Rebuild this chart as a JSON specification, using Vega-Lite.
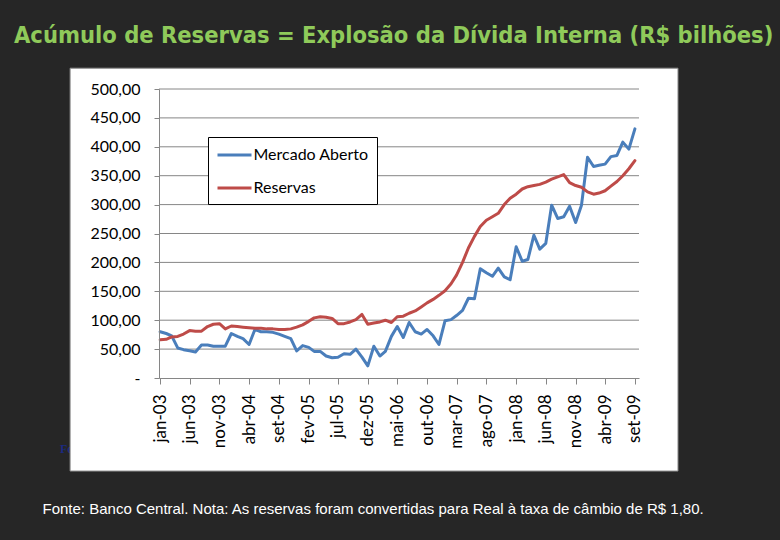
{
  "$schema": "https://vega.github.io/schema/vega-lite/v6.json",
  "width": 480,
  "height": 289,
  "autosize": {"type": "none"},
  "padding": {"left": 159, "top": 89, "right": 141, "bottom": 162},
  "background": "#262626",
  "title": {
    "text": "Acúmulo de Reservas = Explosão da Dívida Interna (R$ bilhões)",
    "anchor": "start",
    "frame": "group",
    "dx": -145,
    "offset": 20,
    "color": "#8fca5a",
    "font": "DejaVu Sans Condensed",
    "fontSize": 23.5,
    "fontWeight": "bold"
  },
  "config": {
    "view": {"stroke": null},
    "axis": {"zindex": 1, "grid": false, "labelOverlap": false, "domainColor": "#868686", "tickColor": "#868686", "labelColor": "#000000"}
  },
  "datasets": {
    "serie": [
      {"mes": "2003-01", "Mercado Aberto": 80, "Reservas": 66},
      {"mes": "2003-02", "Mercado Aberto": 77, "Reservas": 67},
      {"mes": "2003-03", "Mercado Aberto": 73, "Reservas": 71},
      {"mes": "2003-04", "Mercado Aberto": 52, "Reservas": 72},
      {"mes": "2003-05", "Mercado Aberto": 49, "Reservas": 76},
      {"mes": "2003-06", "Mercado Aberto": 47, "Reservas": 82},
      {"mes": "2003-07", "Mercado Aberto": 45, "Reservas": 81},
      {"mes": "2003-08", "Mercado Aberto": 57, "Reservas": 81},
      {"mes": "2003-09", "Mercado Aberto": 57, "Reservas": 89},
      {"mes": "2003-10", "Mercado Aberto": 55, "Reservas": 93},
      {"mes": "2003-11", "Mercado Aberto": 55, "Reservas": 94},
      {"mes": "2003-12", "Mercado Aberto": 55, "Reservas": 85},
      {"mes": "2004-01", "Mercado Aberto": 77, "Reservas": 90},
      {"mes": "2004-02", "Mercado Aberto": 72, "Reservas": 89},
      {"mes": "2004-03", "Mercado Aberto": 68, "Reservas": 88},
      {"mes": "2004-04", "Mercado Aberto": 58, "Reservas": 87},
      {"mes": "2004-05", "Mercado Aberto": 84, "Reservas": 86},
      {"mes": "2004-06", "Mercado Aberto": 80, "Reservas": 86},
      {"mes": "2004-07", "Mercado Aberto": 80, "Reservas": 85},
      {"mes": "2004-08", "Mercado Aberto": 79, "Reservas": 85},
      {"mes": "2004-09", "Mercado Aberto": 76, "Reservas": 84},
      {"mes": "2004-10", "Mercado Aberto": 72, "Reservas": 84},
      {"mes": "2004-11", "Mercado Aberto": 68, "Reservas": 85},
      {"mes": "2004-12", "Mercado Aberto": 47, "Reservas": 88},
      {"mes": "2005-01", "Mercado Aberto": 56, "Reservas": 92},
      {"mes": "2005-02", "Mercado Aberto": 53, "Reservas": 98},
      {"mes": "2005-03", "Mercado Aberto": 46, "Reservas": 104},
      {"mes": "2005-04", "Mercado Aberto": 46, "Reservas": 106},
      {"mes": "2005-05", "Mercado Aberto": 38, "Reservas": 105},
      {"mes": "2005-06", "Mercado Aberto": 35, "Reservas": 103},
      {"mes": "2005-07", "Mercado Aberto": 36, "Reservas": 94},
      {"mes": "2005-08", "Mercado Aberto": 42, "Reservas": 94},
      {"mes": "2005-09", "Mercado Aberto": 41, "Reservas": 97},
      {"mes": "2005-10", "Mercado Aberto": 50, "Reservas": 101},
      {"mes": "2005-11", "Mercado Aberto": 36, "Reservas": 110},
      {"mes": "2005-12", "Mercado Aberto": 21, "Reservas": 93},
      {"mes": "2006-01", "Mercado Aberto": 55, "Reservas": 95},
      {"mes": "2006-02", "Mercado Aberto": 38, "Reservas": 97},
      {"mes": "2006-03", "Mercado Aberto": 46, "Reservas": 100},
      {"mes": "2006-04", "Mercado Aberto": 72, "Reservas": 96},
      {"mes": "2006-05", "Mercado Aberto": 89, "Reservas": 106},
      {"mes": "2006-06", "Mercado Aberto": 70, "Reservas": 107},
      {"mes": "2006-07", "Mercado Aberto": 96, "Reservas": 112},
      {"mes": "2006-08", "Mercado Aberto": 80, "Reservas": 116},
      {"mes": "2006-09", "Mercado Aberto": 76, "Reservas": 123},
      {"mes": "2006-10", "Mercado Aberto": 84, "Reservas": 130},
      {"mes": "2006-11", "Mercado Aberto": 73, "Reservas": 136},
      {"mes": "2006-12", "Mercado Aberto": 58, "Reservas": 143},
      {"mes": "2007-01", "Mercado Aberto": 99, "Reservas": 151},
      {"mes": "2007-02", "Mercado Aberto": 101, "Reservas": 163},
      {"mes": "2007-03", "Mercado Aberto": 108, "Reservas": 178},
      {"mes": "2007-04", "Mercado Aberto": 117, "Reservas": 200},
      {"mes": "2007-05", "Mercado Aberto": 138, "Reservas": 225},
      {"mes": "2007-06", "Mercado Aberto": 137, "Reservas": 245},
      {"mes": "2007-07", "Mercado Aberto": 189, "Reservas": 262},
      {"mes": "2007-08", "Mercado Aberto": 182, "Reservas": 273},
      {"mes": "2007-09", "Mercado Aberto": 176, "Reservas": 279},
      {"mes": "2007-10", "Mercado Aberto": 190, "Reservas": 285},
      {"mes": "2007-11", "Mercado Aberto": 175, "Reservas": 300},
      {"mes": "2007-12", "Mercado Aberto": 170, "Reservas": 311},
      {"mes": "2008-01", "Mercado Aberto": 227, "Reservas": 318},
      {"mes": "2008-02", "Mercado Aberto": 202, "Reservas": 327},
      {"mes": "2008-03", "Mercado Aberto": 205, "Reservas": 331},
      {"mes": "2008-04", "Mercado Aberto": 247, "Reservas": 333},
      {"mes": "2008-05", "Mercado Aberto": 223, "Reservas": 335},
      {"mes": "2008-06", "Mercado Aberto": 233, "Reservas": 339},
      {"mes": "2008-07", "Mercado Aberto": 299, "Reservas": 344},
      {"mes": "2008-08", "Mercado Aberto": 276, "Reservas": 348},
      {"mes": "2008-09", "Mercado Aberto": 279, "Reservas": 352},
      {"mes": "2008-10", "Mercado Aberto": 297, "Reservas": 338},
      {"mes": "2008-11", "Mercado Aberto": 269, "Reservas": 333},
      {"mes": "2008-12", "Mercado Aberto": 299, "Reservas": 330},
      {"mes": "2009-01", "Mercado Aberto": 382, "Reservas": 322},
      {"mes": "2009-02", "Mercado Aberto": 366, "Reservas": 318},
      {"mes": "2009-03", "Mercado Aberto": 368, "Reservas": 320},
      {"mes": "2009-04", "Mercado Aberto": 370, "Reservas": 324},
      {"mes": "2009-05", "Mercado Aberto": 383, "Reservas": 332},
      {"mes": "2009-06", "Mercado Aberto": 385, "Reservas": 340},
      {"mes": "2009-07", "Mercado Aberto": 408, "Reservas": 350},
      {"mes": "2009-08", "Mercado Aberto": 396, "Reservas": 362},
      {"mes": "2009-09", "Mercado Aberto": 431, "Reservas": 376}
    ],
    "grade": [
      {"g": 50}, {"g": 100}, {"g": 150}, {"g": 200}, {"g": 250},
      {"g": 300}, {"g": 350}, {"g": 400}, {"g": 450}, {"g": 500}
    ]
  },
  "layer": [
    {
      "data": {"values": [{"t": "Fo"}]},
      "mark": {"type": "text", "align": "left", "baseline": "middle", "font": "Liberation Serif", "fontWeight": "bold", "fontSize": 12, "color": "#1c2a80"},
      "encoding": {
        "x": {"datum": {"year": 2001, "month": 8, "date": 5, "utc": true}, "type": "temporal"},
        "y": {"datum": -123, "type": "quantitative"},
        "text": {"field": "t"}
      }
    },
    {
      "data": {"values": [{}]},
      "mark": {"type": "rect", "fill": "#ffffff", "stroke": "#8a8a8a", "strokeWidth": 1},
      "encoding": {
        "x": {"datum": {"year": 2001, "month": 9, "date": 26, "utc": true}, "type": "temporal"},
        "x2": {"datum": {"year": 2010, "month": 4, "date": 10, "utc": true}},
        "y": {"datum": -161, "type": "quantitative"},
        "y2": {"datum": 536}
      }
    },
    {
      "data": {"name": "grade"},
      "mark": {"type": "rule", "color": "#868686", "strokeWidth": 1},
      "encoding": {
        "y": {"field": "g", "type": "quantitative"}
      }
    },
    {
      "data": {"name": "serie", "format": {"parse": {"mes": "utc:'%Y-%m'"}}},
      "transform": [{"fold": ["Mercado Aberto", "Reservas"], "as": ["serie", "valor"]}],
      "mark": {"type": "line", "strokeWidth": 3, "strokeJoin": "round", "strokeCap": "round"},
      "encoding": {
        "x": {
          "field": "mes",
          "type": "temporal",
          "scale": {"domain": [{"year": 2002, "month": 12, "date": 26, "utc": true}, {"year": 2009, "month": 9, "date": 22, "utc": true}]},
          "axis": {
            "zindex": 1,
            "tickCount": 40,
            "values": [
              {"year": 2003, "month": 1, "date": 1, "utc": true},
              {"year": 2003, "month": 6, "date": 1, "utc": true},
              {"year": 2003, "month": 11, "date": 1, "utc": true},
              {"year": 2004, "month": 4, "date": 1, "utc": true},
              {"year": 2004, "month": 9, "date": 1, "utc": true},
              {"year": 2005, "month": 2, "date": 1, "utc": true},
              {"year": 2005, "month": 7, "date": 1, "utc": true},
              {"year": 2005, "month": 12, "date": 1, "utc": true},
              {"year": 2006, "month": 5, "date": 1, "utc": true},
              {"year": 2006, "month": 10, "date": 1, "utc": true},
              {"year": 2007, "month": 3, "date": 1, "utc": true},
              {"year": 2007, "month": 8, "date": 1, "utc": true},
              {"year": 2008, "month": 1, "date": 1, "utc": true},
              {"year": 2008, "month": 6, "date": 1, "utc": true},
              {"year": 2008, "month": 11, "date": 1, "utc": true},
              {"year": 2009, "month": 4, "date": 1, "utc": true},
              {"year": 2009, "month": 9, "date": 1, "utc": true}
            ],
            "labelExpr": "['jan','fev','mar','abr','mai','jun','jul','ago','set','out','nov','dez'][utcmonth(datum.value)] + '-' + utcFormat(datum.value, '%y')",
            "labelAngle": -90,
            "labelFont": "Lato",
            "labelFontSize": 17,
            "labelPadding": 10,
            "labelOverlap": false,
            "labelFlush": false,
            "labelBound": false,
            "tickSize": 6,
            "title": "Fonte: Banco Central. Nota: As reservas foram convertidas para Real à taxa de câmbio de R$ 1,80.",
            "titleColor": "#ffffff",
            "titleFont": "Liberation Sans",
            "titleFontSize": 15,
            "titleFontWeight": "normal",
            "titleAlign": "left",
            "titleBaseline": "middle",
            "titleAngle": 0,
            "titleX": -117,
            "titleY": 130
          }
        },
        "y": {
          "field": "valor",
          "type": "quantitative",
          "scale": {"domain": [0, 500], "nice": false},
          "axis": {
            "zindex": 1,
            "tickCount": 40,
            "values": [0, 50, 100, 150, 200, 250, 300, 350, 400, 450, 500],
            "labelExpr": "datum.value == 0 ? '-\u00a0\u00a0\u00a0' : replace(format(datum.value, '.2f'), '.', ',')",
            "labelFont": "Lato",
            "labelFontSize": 16,
            "labelPadding": 14,
            "labelOverlap": false,
            "labelBound": false,
            "tickSize": 5,
            "title": null
          }
        },
        "color": {
          "field": "serie",
          "type": "nominal",
          "scale": {"domain": ["Mercado Aberto", "Reservas"], "range": ["#4a7ebb", "#be4b48"]},
          "legend": {
            "orient": "none",
            "legendX": 49,
            "legendY": 48,
            "title": null,
            "fillColor": "#ffffff",
            "strokeColor": "#000000",
            "padding": 8,
            "symbolType": "M-2,0H2",
            "symbolSize": 289,
            "symbolStrokeWidth": 3,
            "symbolOffset": 8.5,
            "labelOffset": 9,
            "labelFont": "Lato",
            "labelFontSize": 16,
            "labelColor": "#000000",
            "rowPadding": 15,
            "zindex": 1
          }
        }
      }
    }
  ]
}
